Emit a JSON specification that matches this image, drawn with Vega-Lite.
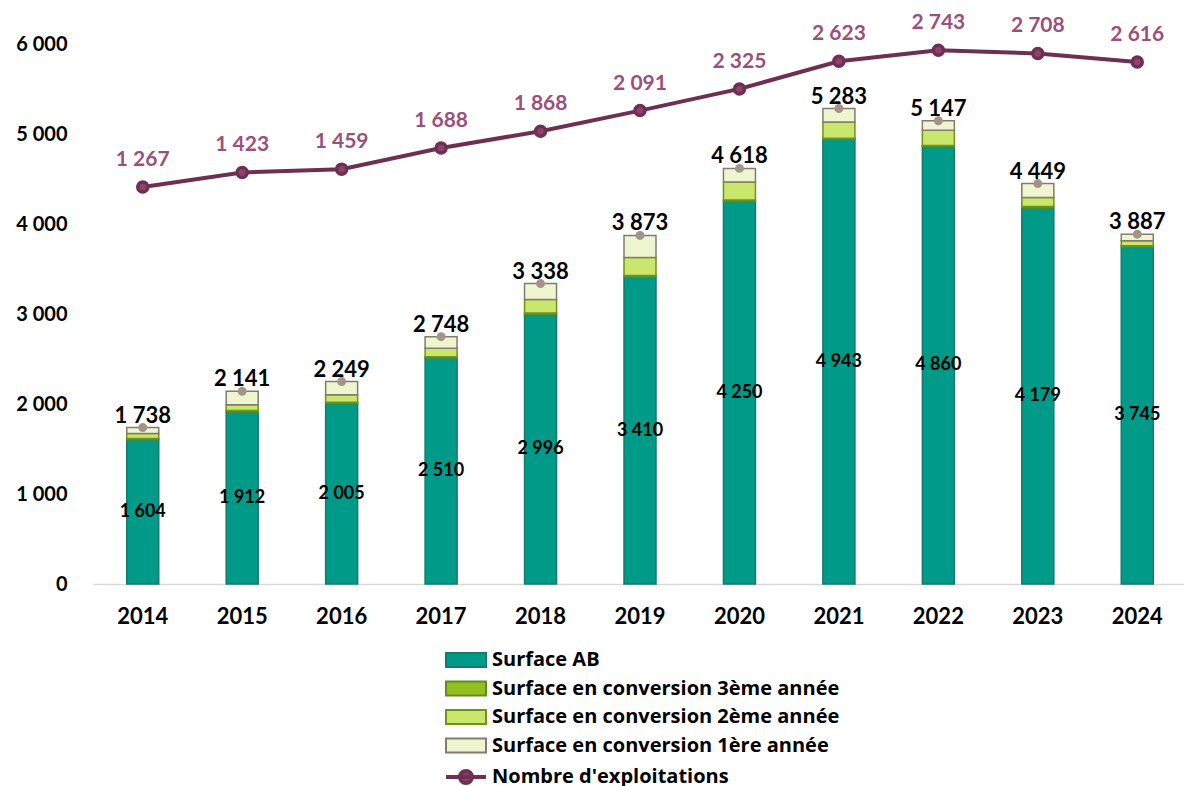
{
  "$schema": "https://vega.github.io/schema/vega-lite/v6.json",
  "width": 1094,
  "height": 540,
  "autosize": {"type": "none"},
  "padding": {"left": 93, "top": 44, "right": 0, "bottom": 202},
  "background": "white",
  "config": {
    "view": {"stroke": null},
    "font": "Lato",
    "locale": {"number": {"decimal": ",", "thousands": " ", "grouping": [3], "currency": ["", " €"]}}
  },
  "datasets": {
    "surfaces": [
      {"annee": "2014", "serie": "Surface AB", "rang": 1, "surface": 1604},
      {"annee": "2014", "serie": "Surface en conversion 3ème année", "rang": 2, "surface": 14},
      {"annee": "2014", "serie": "Surface en conversion 2ème année", "rang": 3, "surface": 55},
      {"annee": "2014", "serie": "Surface en conversion 1ère année", "rang": 4, "surface": 65},
      {"annee": "2015", "serie": "Surface AB", "rang": 1, "surface": 1912},
      {"annee": "2015", "serie": "Surface en conversion 3ème année", "rang": 2, "surface": 16},
      {"annee": "2015", "serie": "Surface en conversion 2ème année", "rang": 3, "surface": 65},
      {"annee": "2015", "serie": "Surface en conversion 1ère année", "rang": 4, "surface": 148},
      {"annee": "2016", "serie": "Surface AB", "rang": 1, "surface": 2005},
      {"annee": "2016", "serie": "Surface en conversion 3ème année", "rang": 2, "surface": 14},
      {"annee": "2016", "serie": "Surface en conversion 2ème année", "rang": 3, "surface": 85},
      {"annee": "2016", "serie": "Surface en conversion 1ère année", "rang": 4, "surface": 145},
      {"annee": "2017", "serie": "Surface AB", "rang": 1, "surface": 2510},
      {"annee": "2017", "serie": "Surface en conversion 3ème année", "rang": 2, "surface": 14},
      {"annee": "2017", "serie": "Surface en conversion 2ème année", "rang": 3, "surface": 95},
      {"annee": "2017", "serie": "Surface en conversion 1ère année", "rang": 4, "surface": 129},
      {"annee": "2018", "serie": "Surface AB", "rang": 1, "surface": 2996},
      {"annee": "2018", "serie": "Surface en conversion 3ème année", "rang": 2, "surface": 14},
      {"annee": "2018", "serie": "Surface en conversion 2ème année", "rang": 3, "surface": 150},
      {"annee": "2018", "serie": "Surface en conversion 1ère année", "rang": 4, "surface": 178},
      {"annee": "2019", "serie": "Surface AB", "rang": 1, "surface": 3410},
      {"annee": "2019", "serie": "Surface en conversion 3ème année", "rang": 2, "surface": 19},
      {"annee": "2019", "serie": "Surface en conversion 2ème année", "rang": 3, "surface": 200},
      {"annee": "2019", "serie": "Surface en conversion 1ère année", "rang": 4, "surface": 244},
      {"annee": "2020", "serie": "Surface AB", "rang": 1, "surface": 4250},
      {"annee": "2020", "serie": "Surface en conversion 3ème année", "rang": 2, "surface": 16},
      {"annee": "2020", "serie": "Surface en conversion 2ème année", "rang": 3, "surface": 200},
      {"annee": "2020", "serie": "Surface en conversion 1ère année", "rang": 4, "surface": 152},
      {"annee": "2021", "serie": "Surface AB", "rang": 1, "surface": 4943},
      {"annee": "2021", "serie": "Surface en conversion 3ème année", "rang": 2, "surface": 11},
      {"annee": "2021", "serie": "Surface en conversion 2ème année", "rang": 3, "surface": 180},
      {"annee": "2021", "serie": "Surface en conversion 1ère année", "rang": 4, "surface": 149},
      {"annee": "2022", "serie": "Surface AB", "rang": 1, "surface": 4860},
      {"annee": "2022", "serie": "Surface en conversion 3ème année", "rang": 2, "surface": 13},
      {"annee": "2022", "serie": "Surface en conversion 2ème année", "rang": 3, "surface": 170},
      {"annee": "2022", "serie": "Surface en conversion 1ère année", "rang": 4, "surface": 104},
      {"annee": "2023", "serie": "Surface AB", "rang": 1, "surface": 4179},
      {"annee": "2023", "serie": "Surface en conversion 3ème année", "rang": 2, "surface": 15},
      {"annee": "2023", "serie": "Surface en conversion 2ème année", "rang": 3, "surface": 100},
      {"annee": "2023", "serie": "Surface en conversion 1ère année", "rang": 4, "surface": 155},
      {"annee": "2024", "serie": "Surface AB", "rang": 1, "surface": 3745},
      {"annee": "2024", "serie": "Surface en conversion 3ème année", "rang": 2, "surface": 14},
      {"annee": "2024", "serie": "Surface en conversion 2ème année", "rang": 3, "surface": 55},
      {"annee": "2024", "serie": "Surface en conversion 1ère année", "rang": 4, "surface": 73}
    ],
    "totaux": [
      {"annee": "2014", "total": 1738, "exploitations": 1267},
      {"annee": "2015", "total": 2141, "exploitations": 1423},
      {"annee": "2016", "total": 2249, "exploitations": 1459},
      {"annee": "2017", "total": 2748, "exploitations": 1688},
      {"annee": "2018", "total": 3338, "exploitations": 1868},
      {"annee": "2019", "total": 3873, "exploitations": 2091},
      {"annee": "2020", "total": 4618, "exploitations": 2325},
      {"annee": "2021", "total": 5283, "exploitations": 2623},
      {"annee": "2022", "total": 5147, "exploitations": 2743},
      {"annee": "2023", "total": 4449, "exploitations": 2708},
      {"annee": "2024", "total": 3887, "exploitations": 2616}
    ]
  },
  "layer": [
    {
      "layer": [
        {
          "data": {"name": "surfaces"},
          "mark": {"type": "bar", "width": 32, "strokeWidth": 1.5},
          "encoding": {
            "x": {
              "field": "annee", "type": "ordinal",
              "scale": {"paddingInner": 0, "paddingOuter": 0},
              "axis": {
                "title": null, "labelAngle": 0, "labelFont": "Lato", "labelFontSize": 22,
                "labelFontWeight": "bold", "labelColor": "black", "ticks": false,
                "domainColor": "#d9d9d9", "domainWidth": 1.5, "labelPadding": 22
              }
            },
            "y": {
              "field": "surface", "type": "quantitative", "stack": "zero",
              "scale": {"domain": [0, 6000], "nice": false},
              "axis": {
                "title": null, "values": [0, 1000, 2000, 3000, 4000, 5000, 6000], "format": ",d",
                "labelFont": "Lato", "labelFontSize": 20, "labelFontWeight": "bold", "labelColor": "black",
                "ticks": false, "domain": false, "grid": false, "labelPadding": 26
              }
            },
            "fill": {
              "field": "serie", "type": "nominal",
              "scale": {
                "domain": ["Surface AB", "Surface en conversion 3ème année", "Surface en conversion 2ème année", "Surface en conversion 1ère année", "Nombre d'exploitations"],
                "range": ["#009B88", "#93C01F", "#C9E76C", "#EEF6D0", "#8E426C"]
              },
              "legend": {
                "title": null, "orient": "none", "legendX": 363, "legendY": 606, "direction": "vertical",
                "padding": 0, "labelFont": "Open Sans", "labelFontSize": 20, "labelFontWeight": "bold",
                "labelColor": "black", "symbolSize": 400, "labelOffset": 16, "rowPadding": 6.5,
                "labelLimit": 600,
                "symbolType": "M-2,-0.7H2V0.7H-2Z",
                "symbolStrokeWidth": 2,
                "symbolStrokeColor": "#857A70",
                "symbolOpacity": 1,
                "encode": {
                  "symbols": {
                    "update": {
                      "shape": {"signal": "datum.value === \"Nombre d'exploitations\" ? 'M-2,0H2M0.6,0A0.6,0.6,0,1,1,-0.6,0A0.6,0.6,0,1,1,0.6,0Z' : 'M-2,-0.7H2V0.7H-2Z'"},
                      "stroke": {"signal": "datum.value === 'Surface AB' ? '#147A6C' : datum.value === 'Surface en conversion 3ème année' ? '#5E8C1E' : datum.value === 'Surface en conversion 2ème année' ? '#6E9418' : datum.value === 'Surface en conversion 1ère année' ? '#857A70' : '#6E3052'"},
                      "strokeWidth": {"signal": "datum.value === \"Nombre d'exploitations\" ? 4 : 2"}
                    }
                  }
                }
              }
            },
            "stroke": {
              "field": "serie", "type": "nominal",
              "scale": {
                "domain": ["Surface AB", "Surface en conversion 3ème année", "Surface en conversion 2ème année", "Surface en conversion 1ère année"],
                "range": ["#147A6C", "#5E8C1E", "#6E9418", "#857A70"]
              },
              "legend": null
            },
            "order": {"field": "rang", "type": "quantitative"}
          }
        },
        {
          "data": {"name": "totaux"},
          "mark": {"type": "circle", "color": "#A39389", "size": 80, "opacity": 1},
          "encoding": {
            "x": {"field": "annee", "type": "ordinal"},
            "y": {"field": "total", "type": "quantitative"}
          }
        },
        {
          "data": {"name": "totaux"},
          "mark": {"type": "text", "font": "Lato", "fontSize": 22, "fontWeight": "bold", "color": "black", "baseline": "alphabetic", "dy": -5},
          "encoding": {
            "x": {"field": "annee", "type": "ordinal"},
            "y": {"field": "total", "type": "quantitative"},
            "text": {"field": "total", "type": "quantitative", "format": ",d"}
          }
        }
      ]
    },
    {
      "data": {"name": "surfaces"},
      "transform": [{"filter": "datum.serie === 'Surface AB'"}],
      "mark": {"type": "text", "font": "Lato", "fontSize": 18, "fontWeight": "bold", "color": "black"},
      "encoding": {
        "x": {"field": "annee", "type": "ordinal"},
        "y": {"field": "surface", "type": "quantitative", "scale": {"domain": [0, 12000], "nice": false}, "axis": null},
        "text": {"field": "surface", "type": "quantitative", "format": ",d"}
      }
    },
    {
      "data": {"name": "totaux"},
      "encoding": {
        "x": {"field": "annee", "type": "ordinal"},
        "y": {"field": "exploitations", "type": "quantitative", "scale": {"domain": [-3020, 2810], "nice": false, "zero": false}, "axis": null}
      },
      "layer": [
        {"mark": {"type": "line", "color": "#6E3052", "strokeWidth": 4}},
        {"mark": {"type": "point", "filled": true, "fill": "#8E426C", "stroke": "#6E3052", "strokeWidth": 3.5, "size": 100, "opacity": 1}},
        {
          "mark": {"type": "text", "font": "Lato", "fontSize": 21, "fontWeight": "bold", "color": "#9B4F7B", "baseline": "alphabetic", "dy": -21},
          "encoding": {"text": {"field": "exploitations", "type": "quantitative", "format": ",d"}}
        }
      ]
    }
  ],
  "resolve": {"scale": {"y": "independent"}}
}
